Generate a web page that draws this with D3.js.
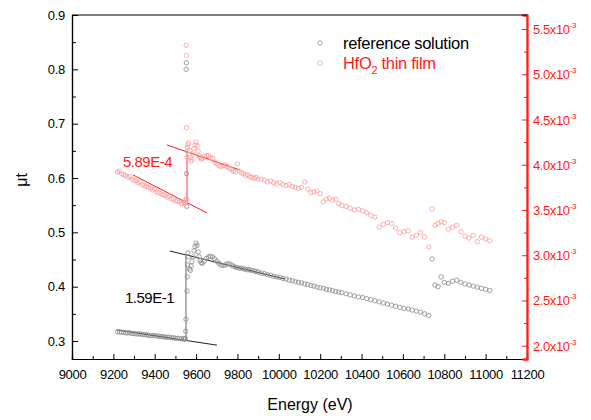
<!DOCTYPE html>
<html>
<head>
<meta charset="utf-8">
<script src="https://cdn.jsdelivr.net/npm/d3@7/dist/d3.min.js"></script>
<style>
  body { margin: 0; background: #fff; }
  text { font-family: "Liberation Sans", Arial, sans-serif; }
</style>
</head>
<body>
<div id="graphic"></div>
<script>
// energies (eV), shared by both scans
var energy = [
  9220,9230,9240,9250,9260,9270,9280,9290,9300,9310,9320,9330,9340,9350,9360,9370,9380,9390,9400,9410,9420,9430,9440,9450,9460,9470,9480,9490,9500,9510,9520,9530,9540,
  9545,9548,9550,9551,9552,9553,9554,9555,9556,9557,9558,
  9560,9564,9568,9572,9576,9580,9585,9590,9595,9600,9605,9610,9615,9620,9625,9630,9640,9650,
  9660,9670,9680,9690,9700,9710,9720,9730,9740,9750,9760,9770,9780,9790,9800,9810,9820,9830,9840,9850,9860,9870,9880,9890,9900,
  9915,9930,9945,9960,9975,9990,10005,10020,10035,10050,10065,10080,10095,10110,10125,10140,10155,10170,10185,10200,10215,10230,10245,10260,10275,10290,10305,
  10325,10345,10365,10385,10405,10425,10445,10465,10485,10505,10525,10545,10565,10585,10605,10625,10645,10665,10685,10705,10725,
  10741,10755,10770,10785,10800,10820,10840,10860,10880,10900,10920,10940,10960,10980,11000,11020
];

// reference solution, mu*t (left axis)
var refMu = [
  0.317,0.317,0.316,0.316,0.315,0.315,0.315,0.314,0.314,0.313,0.313,0.313,0.312,0.312,0.311,0.311,0.310,0.310,0.310,0.309,0.309,0.308,0.308,0.307,0.307,0.307,0.306,0.306,0.305,0.305,0.305,0.304,0.304,
  0.303,0.305,0.318,0.340,0.800,0.812,0.608,0.548,0.392,0.418,0.440,
  0.462,0.455,0.433,0.430,0.438,0.446,0.455,0.466,0.474,0.480,0.476,0.464,0.455,0.448,0.444,0.443,0.447,0.452,
  0.455,0.456,0.455,0.451,0.447,0.443,0.440,0.439,0.440,0.442,0.442,0.440,0.438,0.436,0.435,0.434,0.434,0.433,0.432,0.431,0.431,0.430,0.429,0.428,0.427,
  0.425,0.424,0.422,0.421,0.419,0.418,0.417,0.415,0.414,0.412,0.411,0.409,0.408,0.407,0.405,0.404,0.402,0.401,0.399,0.398,0.397,0.395,0.394,0.393,0.391,0.390,0.389,
  0.387,0.385,0.383,0.381,0.380,0.378,0.376,0.374,0.372,0.370,0.368,0.366,0.364,0.362,0.360,0.359,0.357,0.355,0.353,0.350,0.347,
  0.451,0.403,0.400,0.418,0.408,0.406,0.410,0.412,0.408,0.405,0.403,0.401,0.399,0.397,0.395,0.393
];

// HfO2 thin film, mu*t in units of 1e-3 (right axis)
var filmMu = [
  3.92,3.93,3.90,3.89,3.88,3.86,3.87,3.84,3.83,3.82,3.80,3.81,3.78,3.77,3.76,3.75,3.74,3.72,3.73,3.70,3.69,3.68,3.67,3.66,3.64,3.65,3.62,3.62,3.60,3.60,3.59,3.57,3.58,
  3.57,3.58,3.60,3.62,5.32,5.21,4.41,3.62,4.08,4.15,4.19,
  4.22,4.24,4.16,4.08,4.04,4.06,4.12,4.18,4.22,4.25,4.21,4.15,4.10,4.08,4.06,4.07,4.09,4.10,
  4.10,4.08,4.07,4.03,4.01,3.99,3.98,3.99,4.00,3.98,3.96,3.95,3.93,3.92,4.01,3.93,3.91,3.90,3.88,3.89,3.87,3.86,3.85,3.86,3.84,
  3.84,3.83,3.81,3.82,3.80,3.79,3.80,3.78,3.77,3.78,3.76,3.75,3.74,3.75,3.81,3.73,3.69,3.70,3.71,3.68,3.59,3.62,3.63,3.61,3.62,3.57,3.55,
  3.54,3.52,3.50,3.51,3.49,3.47,3.44,3.42,3.31,3.34,3.36,3.35,3.30,3.25,3.26,3.27,3.20,3.22,3.25,3.20,3.09,
  3.51,3.33,3.35,3.37,3.36,3.29,3.31,3.33,3.26,3.21,3.19,3.22,3.15,3.20,3.18,3.16
];

// edge-step fits: [energy, value]
var refPreFit = [[9218, 0.3202], [9701, 0.2924]];
var refPostFit = [[9474, 0.4656], [10030, 0.414]];
var refStep = [[9551, 0.301], [9551, 0.459]];
var filmPreFit = [[9295, 3.887], [9653, 3.467]];
var filmPostFit = [[9459, 4.219], [9812, 3.942]];
var filmStep = [[9556, 3.589], [9556, 4.143]];

var xTicks = [9000, 9200, 9400, 9600, 9800, 10000, 10200, 10400, 10600, 10800, 11000, 11200];
var leftTicks = [0.3, 0.4, 0.5, 0.6, 0.7, 0.8, 0.9];
var rightTicks = [2.0, 2.5, 3.0, 3.5, 4.0, 4.5, 5.0, 5.5];

var margin = { top: 15, left: 72, right: 64, bottom: 61 },
    width = 591 - margin.left - margin.right,
    height = 420 - margin.top - margin.bottom;

var red = "#ff1a1a";
var refColor = "#8a8a8a";
var filmColor = "#ff9a9a";

var svg = d3.select("#graphic")
  .append("svg")
  .attr("width", 591)
  .attr("height", 420)
  .append("g")
  .attr("transform", "translate(" + margin.left + "," + margin.top + ")");

/*** SCALES ***/
var x = d3.scaleLinear().domain([9000, 11200]).range([0, width]);
var yLeft = d3.scaleLinear().domain([0.2669, 0.9]).range([height, 0]);
var yRight = d3.scaleLinear().domain([1.853, 5.655]).range([height, 0]);

/*** AXES ***/
function minorBetween(ticks, step) {
  return ticks.slice(0, -1).map(function(t) { return t + step; });
}

svg.append("g")
  .attr("transform", "translate(0," + height + ")")
  .call(d3.axisBottom(x).tickValues(xTicks).tickFormat(d3.format("d")).tickSize(-5).tickPadding(11));
svg.append("g")
  .attr("transform", "translate(0," + height + ")")
  .call(d3.axisBottom(x).tickValues(minorBetween(xTicks, 100)).tickFormat("").tickSize(-3));

svg.append("g")
  .call(d3.axisLeft(yLeft).tickValues(leftTicks).tickFormat(d3.format(".1f")).tickSize(-6).tickPadding(7));
svg.append("g")
  .call(d3.axisLeft(yLeft).tickValues([0.35, 0.45, 0.55, 0.65, 0.75, 0.85]).tickFormat("").tickSize(-4));

svg.append("g")
  .attr("class", "rightAxis")
  .attr("transform", "translate(" + width + ",0)")
  .call(d3.axisRight(yRight).tickValues(rightTicks).tickFormat("").tickSize(-5));
svg.append("g")
  .attr("class", "rightAxis")
  .attr("transform", "translate(" + width + ",0)")
  .call(d3.axisRight(yRight).tickValues(minorBetween(rightTicks, 0.25)).tickFormat("").tickSize(-3));

svg.selectAll(".domain").attr("stroke", "#000").attr("stroke-width", 1.2);
svg.selectAll(".tick line").attr("stroke", "#000");
svg.selectAll(".rightAxis .domain").attr("stroke", red).attr("stroke-width", 1.8);
svg.selectAll(".rightAxis .tick line").attr("stroke", red);
svg.selectAll(".tick text").attr("font-size", 13).attr("letter-spacing", "-0.3px").attr("fill", "#000");

// right tick labels with superscript
var rl = svg.selectAll(".rightLabel")
  .data(rightTicks).enter().append("text")
  .attr("class", "rightLabel")
  .attr("x", width + 6)
  .attr("y", function(d) { return yRight(d) + 5; })
  .attr("font-size", 13)
  .attr("letter-spacing", "-0.4px")
  .attr("fill", red);
rl.append("tspan").text(function(d) { return d.toFixed(1) + "x10"; });
rl.append("tspan").attr("dy", -6).attr("font-size", 8).text("-3");

// top frame
svg.append("line")
  .attr("x1", 0).attr("x2", width).attr("y1", 0).attr("y2", 0)
  .attr("stroke", "#000").attr("stroke-width", 1.2);

/*** AXIS TITLES ***/
svg.append("text")
  .attr("x", 238).attr("y", height + 51)
  .attr("text-anchor", "middle")
  .attr("font-size", 16)
  .text("Energy (eV)");
svg.append("text")
  .attr("transform", "translate(-45," + (yLeft(0.6) + 2) + ") rotate(-90)")
  .attr("text-anchor", "middle")
  .attr("font-size", 16)
  .text("\u03bct");

/*** FIT LINES ***/
var fitLine = d3.line()
  .x(function(d) { return x(d[0]); });

svg.append("path").attr("d", fitLine.y(function(d) { return yLeft(d[1]); })(refPreFit))
  .attr("stroke", "#222").attr("stroke-width", 1).attr("fill", "none");
svg.append("path").attr("d", fitLine.y(function(d) { return yLeft(d[1]); })(refPostFit))
  .attr("stroke", "#222").attr("stroke-width", 1).attr("fill", "none");
svg.append("path").attr("d", fitLine.y(function(d) { return yLeft(d[1]); })(refStep))
  .attr("stroke", "#9a9a9a").attr("stroke-width", 1.5).attr("fill", "none");
svg.append("path").attr("d", fitLine.y(function(d) { return yRight(d[1]); })(filmPreFit))
  .attr("stroke", "#f02020").attr("stroke-width", 1).attr("fill", "none");
svg.append("path").attr("d", fitLine.y(function(d) { return yRight(d[1]); })(filmPostFit))
  .attr("stroke", "#f02020").attr("stroke-width", 1).attr("fill", "none");
svg.append("path").attr("d", fitLine.y(function(d) { return yRight(d[1]); })(filmStep))
  .attr("stroke", "#ff6060").attr("stroke-width", 1.2).attr("fill", "none");

/*** DATA POINTS ***/
svg.selectAll(".refPt")
  .data(energy).enter().append("circle")
  .attr("class", "refPt")
  .attr("cx", function(d) { return x(d); })
  .attr("cy", function(d, i) { return yLeft(refMu[i]); })
  .attr("r", 2.2)
  .attr("fill", "none")
  .attr("stroke", refColor)
  .attr("stroke-width", 0.8);

svg.selectAll(".filmPt")
  .data(energy).enter().append("circle")
  .attr("class", "filmPt")
  .attr("cx", function(d) { return x(d); })
  .attr("cy", function(d, i) { return yRight(filmMu[i]); })
  .attr("r", 2.2)
  .attr("fill", "none")
  .attr("stroke", filmColor)
  .attr("stroke-width", 0.8);

/*** ANNOTATIONS ***/
svg.append("text")
  .attr("x", 51).attr("y", 152)
  .attr("font-size", 15).attr("letter-spacing", "-0.5px")
  .attr("fill", red)
  .text("5.89E-4");
svg.append("text")
  .attr("x", 53).attr("y", 288)
  .attr("font-size", 15).attr("letter-spacing", "-0.5px")
  .attr("fill", "#000")
  .text("1.59E-1");

/*** LEGEND ***/
var legend = svg.append("g").attr("transform", "translate(248,28)");
legend.append("circle").attr("cx", 0).attr("cy", 0).attr("r", 2.2)
  .attr("fill", "none").attr("stroke", refColor).attr("stroke-width", 0.8);
legend.append("text").attr("x", 23).attr("y", 6)
  .attr("font-size", 16.5).attr("letter-spacing", "-0.3px")
  .text("reference solution");
legend.append("circle").attr("cx", 0).attr("cy", 20).attr("r", 2.2)
  .attr("fill", "none").attr("stroke", filmColor).attr("stroke-width", 0.8);
var lt = legend.append("text").attr("x", 23).attr("y", 26)
  .attr("font-size", 16.5).attr("letter-spacing", "-0.3px")
  .attr("fill", red);
lt.append("tspan").text("HfO");
lt.append("tspan").attr("dy", 5).attr("font-size", 11).text("2");
lt.append("tspan").attr("dy", -5).text(" thin film");
</script>
</body>
</html>
